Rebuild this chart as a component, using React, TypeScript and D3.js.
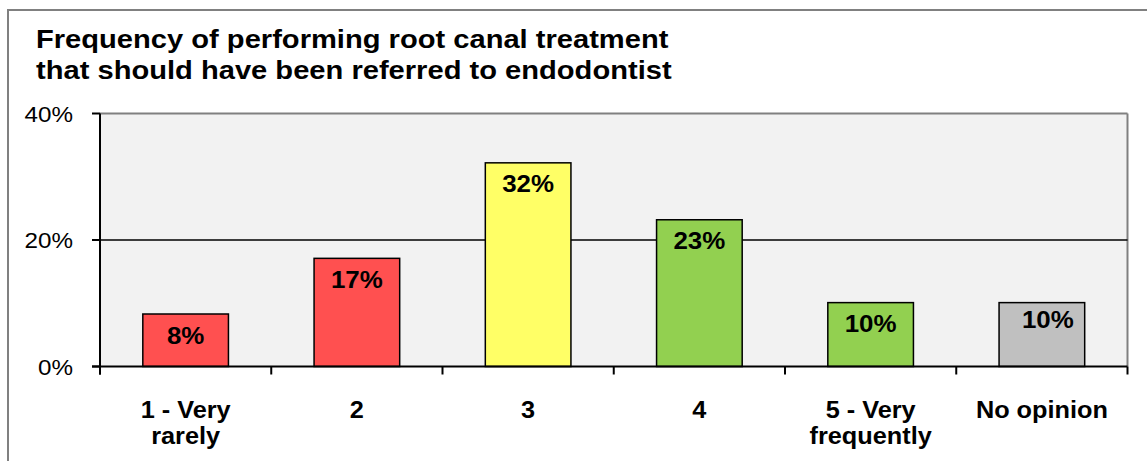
import React from "react";
import * as d3 from "d3";

const titleLines = [
  "Frequency of performing root canal treatment",
  "that should have been referred to endodontist",
];
const categories = ["1 - Very rarely", "2", "3", "4", "5 - Very frequently", "No opinion"];
const categoryLines = [["1 - Very", "rarely"], ["2"], ["3"], ["4"], ["5 - Very", "frequently"], ["No opinion"]];
const values = [8.3, 17.1, 32.2, 23.2, 10.1, 10.1];
const barColors = ["#FF5050", "#FF5050", "#FFFF66", "#92D050", "#92D050", "#C0C0C0"];
const yTicks = [0, 20, 40];

const W = 1147;
const H = 461;
const plot = { left: 100, right: 1127.5, top: 113.5, bottom: 366.5 };
const FONT = "Arial, 'Liberation Sans', sans-serif";

function SText(props: {
  x: number;
  y: number;
  sx: number;
  size: number;
  bold?: boolean;
  anchor?: string;
  children: React.ReactNode;
}) {
  const { x, y, sx, size, bold, anchor, children } = props;
  return (
    <text
      transform={`translate(${x},${y}) scale(${sx},1)`}
      fontSize={size}
      fontWeight={bold ? "bold" : "normal"}
      textAnchor={anchor || "start"}
      fill="#000"
    >
      {children}
    </text>
  );
}

export default function App() {
  const x = d3
    .scaleBand<string>()
    .domain(categories)
    .range([plot.left, plot.right])
    .paddingInner(0.5)
    .paddingOuter(0.25);
  const y = d3.scaleLinear().domain([0, 40]).range([plot.bottom, plot.top]);
  const boundaries = d3
    .range(categories.length + 1)
    .map((i) => plot.left + (i * (plot.right - plot.left)) / categories.length);

  return (
    <>
      <style>{`body{margin:0;}`}</style>
      <svg width={W} height={H} style={{ display: "block", fontFamily: FONT }}>
        <rect x={0} y={0} width={W} height={H} fill="#ffffff" />
        <rect x={8} y={10} width={W + 20} height={H + 20} fill="#ffffff" stroke="#808080" strokeWidth={2} />
        {titleLines.map((t, i) => (
          <SText key={i} x={36} y={48 + i * 31} sx={1.12} size={26} bold>
            {t}
          </SText>
        ))}
        {/* plot background */}
        <rect x={plot.left} y={plot.top} width={plot.right - plot.left} height={plot.bottom - plot.top} fill="#F2F2F2" />
        <line x1={plot.left} x2={plot.right} y1={plot.top} y2={plot.top} stroke="#808080" strokeWidth={2} />
        <line x1={plot.right} x2={plot.right} y1={plot.top} y2={plot.bottom} stroke="#808080" strokeWidth={2} />
        {/* gridlines */}
        {yTicks
          .filter((t) => t > 0 && t < 40)
          .map((t) => (
            <line key={t} x1={plot.left} x2={plot.right} y1={y(t)} y2={y(t)} stroke="#000" strokeWidth={1.5} />
          ))}
        {/* bars */}
        {values.map((v, i) => {
          const c = categories[i];
          const bx = x(c)!;
          const bw = x.bandwidth();
          return (
            <g key={c}>
              <rect x={bx} y={y(v)} width={bw} height={y(0) - y(v)} fill={barColors[i]} stroke="#000" strokeWidth={1.5} />
              <SText
                x={bx + bw / 2 + (i === 5 ? 6 : 0)}
                y={y(v) + (i === 5 ? 25 : 29.5)}
                sx={1.08}
                size={24}
                bold
                anchor="middle"
              >
                {Math.round(v) + "%"}
              </SText>
            </g>
          );
        })}
        {/* axes */}
        <line x1={plot.left} x2={plot.left} y1={plot.top} y2={plot.bottom + 8} stroke="#000" strokeWidth={2} />
        <line x1={plot.left - 8} x2={plot.right} y1={plot.bottom} y2={plot.bottom} stroke="#000" strokeWidth={2} />
        {yTicks.map((t) => (
          <g key={t}>
            <line x1={plot.left - 8} x2={plot.left} y1={y(t)} y2={y(t)} stroke="#000" strokeWidth={2} />
            <SText x={73} y={y(t) + 8} sx={1.1} size={22} anchor="end">
              {t + "%"}
            </SText>
          </g>
        ))}
        {boundaries.map((bx, i) => (
          <line key={i} x1={bx} x2={bx} y1={plot.bottom} y2={plot.bottom + 8} stroke="#000" strokeWidth={2} />
        ))}
        {categoryLines.map((lines, i) =>
          lines.map((l, j) => (
            <SText
              key={i + "-" + j}
              x={x(categories[i])! + x.bandwidth() / 2}
              y={418 + j * 26}
              sx={1.1}
              size={23}
              bold
              anchor="middle"
            >
              {l}
            </SText>
          ))
        )}
      </svg>
    </>
  );
}
